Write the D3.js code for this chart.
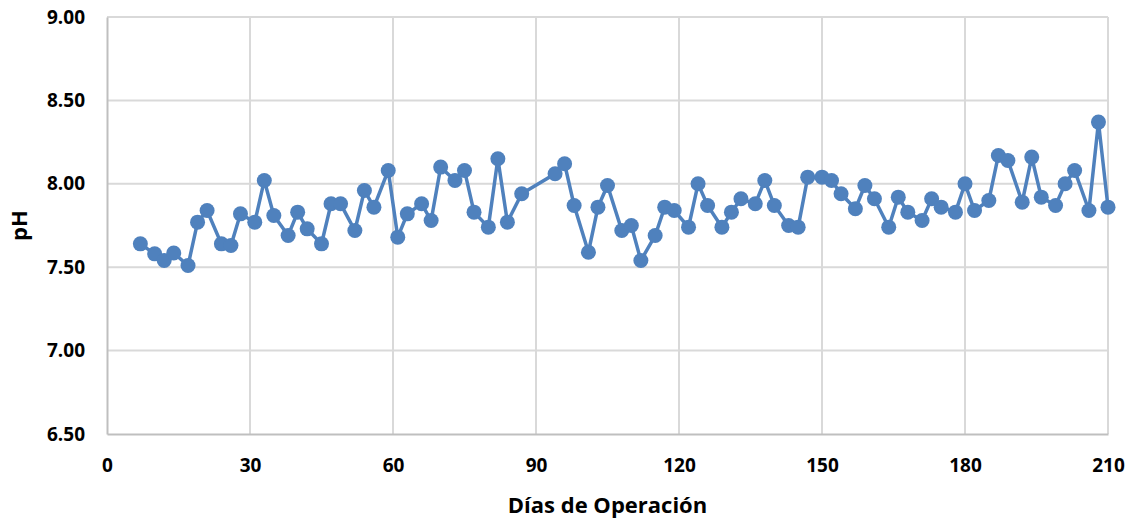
<!DOCTYPE html>
<html lang="es">
  <head>
    <meta charset="UTF-8" />
    <title>pH</title>
    <style>
      body { margin: 0; background: #fff; }
      #container { width: 1132px; height: 520px; }
      text { font-family: "Open Sans", "Noto Sans", sans-serif; font-weight: bold; fill: #000; }
      .grid line { stroke: #d9d9d9; stroke-width: 2; }
      .domain { stroke: #bfbfbf; stroke-width: 2; }
      .serie { fill: none; stroke: #4f81bd; stroke-width: 3.5; }
      .punto { fill: #4f81bd; }
    </style>
  </head>
  <body>
    <div id="container"></div>
  </body>
  <script src="https://cdnjs.cloudflare.com/ajax/libs/d3/7.1.1/d3.min.js"></script>
  <script>
    // datos
    let dias = [7, 10, 12, 14, 17, 19, 21, 24, 26, 28, 31, 33, 35, 38, 40, 42, 45, 47, 49, 52,
      54, 56, 59, 61, 63, 66, 68, 70, 73, 75, 77, 80, 82, 84, 87, 94, 96, 98, 101, 103,
      105, 108, 110, 112, 115, 117, 119, 122, 124, 126, 129, 131, 133, 136, 138, 140, 143, 145, 147, 150,
      152, 154, 157, 159, 161, 164, 166, 168, 171, 173, 175, 178, 180, 182, 185, 187, 189, 192, 194, 196,
      199, 201, 203, 206, 208, 210];
    let ph = [7.64, 7.58, 7.54, 7.585, 7.51, 7.77, 7.84, 7.64, 7.63, 7.82, 7.77, 8.02, 7.81, 7.69, 7.83, 7.73, 7.64, 7.88, 7.88, 7.72,
      7.96, 7.86, 8.08, 7.68, 7.82, 7.88, 7.78, 8.10, 8.02, 8.08, 7.83, 7.74, 8.15, 7.77, 7.94, 8.06, 8.12, 7.87, 7.59, 7.86,
      7.99, 7.72, 7.75, 7.54, 7.69, 7.86, 7.84, 7.74, 8.00, 7.87, 7.74, 7.83, 7.91, 7.88, 8.02, 7.87, 7.75, 7.74, 8.04, 8.04,
      8.02, 7.94, 7.85, 7.99, 7.91, 7.74, 7.92, 7.83, 7.78, 7.91, 7.86, 7.83, 8.00, 7.84, 7.90, 8.17, 8.14, 7.89, 8.16, 7.92,
      7.87, 8.00, 8.08, 7.84, 8.37, 7.86];
    let ticks_x = [0, 30, 60, 90, 120, 150, 180, 210];
    let ticks_y = [6.5, 7.0, 7.5, 8.0, 8.5, 9.0];

    let width = 1132,
      height = 520,
      margin = { left: 107, top: 17, right: 24, bottom: 86 },
      g_width = width - margin.left - margin.right,
      g_height = height - margin.top - margin.bottom;

    let scale_x = d3.scaleLinear().domain([0, 210]).range([0, g_width]);
    let scale_y = d3.scaleLinear().domain([6.5, 9]).range([g_height, 0]);

    let svg = d3.select("#container").append("svg")
      .attr("width", width).attr("height", height);
    let g = svg.append("g").attr("transform", `translate(${margin.left},${margin.top})`);

    // rejilla
    g.append("g").attr("class", "grid")
      .selectAll("line").data(ticks_y.slice(1)).join("line")
      .attr("x1", 0).attr("x2", g_width)
      .attr("y1", d => scale_y(d)).attr("y2", d => scale_y(d));
    g.append("g").attr("class", "grid")
      .selectAll("line").data(ticks_x.slice(1)).join("line")
      .attr("y1", 0).attr("y2", g_height)
      .attr("x1", d => scale_x(d)).attr("x2", d => scale_x(d));

    let x_axis = d3.axisBottom(scale_x).tickValues(ticks_x).tickSize(0).tickPadding(25);
    let y_axis = d3.axisLeft(scale_y).tickValues(ticks_y).tickSize(0).tickPadding(22)
      .tickFormat(d3.format(".2f"));

    g.append("g").attr("transform", `translate(0,${g_height})`).call(x_axis);
    g.append("g").call(y_axis);
    svg.selectAll(".tick text").style("font-size", "19px");
    svg.selectAll(".domain").attr("stroke", "#bfbfbf");

    // serie
    let line = d3.line().x((d, i) => scale_x(dias[i])).y(d => scale_y(d));
    g.append("path").attr("class", "serie").attr("d", line(ph));
    g.selectAll("circle").data(ph).join("circle")
      .attr("class", "punto")
      .attr("cx", (d, i) => scale_x(dias[i]))
      .attr("cy", d => scale_y(d))
      .attr("r", 7.5);

    svg.append("text")
      .text("Días de Operación")
      .attr("x", margin.left + g_width / 2).attr("y", 513)
      .attr("text-anchor", "middle").style("font-size", "22px");
    svg.append("text")
      .text("pH")
      .attr("transform", `translate(27,${margin.top + g_height / 2}) rotate(-90)`)
      .attr("text-anchor", "middle").style("font-size", "22px");
  </script>
</html>
